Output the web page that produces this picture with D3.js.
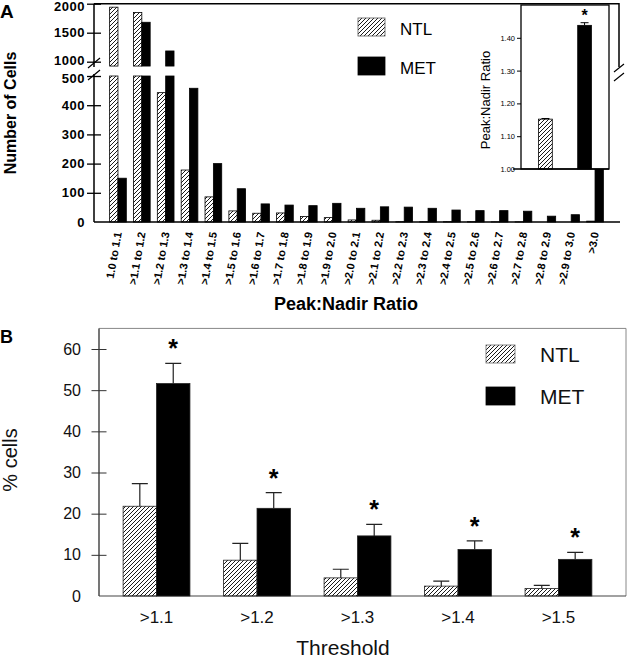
<!DOCTYPE html>
<html>
<head>
<meta charset="utf-8">
<script src="https://cdn.jsdelivr.net/npm/d3@7"></script>
<style>
  body { margin: 0; background: #fff; }
  svg { display: block; font-family: Arial, "Liberation Sans", sans-serif; }
</style>
</head>
<body>
<svg id="chart" width="627" height="661"></svg>
<script>
// Panel A: distribution of peak:nadir ratios
const rangeLabels = ['1.0 to 1.1', '>1.1 to 1.2', '>1.2 to 1.3', '>1.3 to 1.4', '>1.4 to 1.5',
  '>1.5 to 1.6', '>1.6 to 1.7', '>1.7 to 1.8', '>1.8 to 1.9', '>1.9 to 2.0', '>2.0 to 2.1',
  '>2.1 to 2.2', '>2.2 to 2.3', '>2.3 to 2.4', '>2.4 to 2.5', '>2.5 to 2.6', '>2.6 to 2.7',
  '>2.7 to 2.8', '>2.8 to 2.9', '>2.9 to 3.0', '>3.0'];
const ntlCounts = [1940, 1850, 443, 178, 86, 38, 30, 31, 19, 15, 7, 6, 1, 1, 1, 1, 0.5, 0.5, 0, 0, 3];
const metCounts = [150, 1680, 1185, 458, 200, 114, 62, 58, 56, 64, 47, 52, 51, 47, 41, 39, 39, 37, 20, 25, 400];
const lowTicks = [0, 100, 200, 300, 400, 500];
const highTicks = [1000, 1500, 2000];

// Inset: mean peak:nadir ratio
const insetGroups = ['NTL', 'MET'];
const insetMeans = [1.152, 1.438];
const insetErrors = [0.002, 0.008];
const insetTicks = [1.0, 1.1, 1.2, 1.3, 1.4];

// Panel B: % cells above threshold
const thresholds = ['>1.1', '>1.2', '>1.3', '>1.4', '>1.5'];
const ntlPct = [21.8, 8.7, 4.4, 2.4, 1.8];
const ntlPctErr = [5.5, 4.1, 2.1, 1.2, 0.8];
const metPct = [51.6, 21.3, 14.6, 11.3, 8.9];
const metPctErr = [4.9, 3.8, 2.8, 2.1, 1.7];
const pctTicks = [0, 10, 20, 30, 40, 50, 60];

const series = ['NTL', 'MET'];
const fillFor = s => (s === 'NTL' ? 'url(#hatch)' : '#000');
const FONT = 'Arial, "Liberation Sans", sans-serif';

const svg = d3.select('#chart');

// hatch "////"
svg.append('defs').append('pattern')
  .attr('id', 'hatch').attr('patternUnits', 'userSpaceOnUse')
  .attr('width', 4).attr('height', 4)
  .append('path')
  .attr('d', 'M-1,1 l2,-2 M0,4 l4,-4 M3,5 l2,-2')
  .attr('stroke', '#000').attr('stroke-width', 0.9);

// ---------------- Panel A ----------------
const A = { left: 94, right: 619, top: 3.7, bottom: 222 };
const xA = d3.scaleBand().domain(rangeLabels).range([A.left, A.right]).paddingInner(0.3).paddingOuter(0.655);
const subA = d3.scaleBand().domain(series).range([0, xA.bandwidth()]);
const yLow = d3.scaleLinear().domain([0, 500]).range([A.bottom, 76]);
const yHigh = d3.scaleLinear().domain([1000, 2000]).range([61.7, A.top]);
const highFloor = 925; // where the upper bar pieces start

const gA = svg.append('g');

series.forEach(s => {
  const vals = s === 'NTL' ? ntlCounts : metCounts;
  const g = gA.append('g');
  g.selectAll('rect.low').data(vals).join('rect')
    .attr('class', 'low')
    .attr('x', (d, i) => xA(rangeLabels[i]) + subA(s))
    .attr('y', d => yLow(Math.min(d, 500)))
    .attr('width', subA.bandwidth())
    .attr('height', d => yLow(0) - yLow(Math.min(d, 500)))
    .attr('fill', fillFor(s))
    .attr('stroke', '#000').attr('stroke-width', 0.8);
  g.selectAll('rect.high').data(vals.map((d, i) => ({ d, i })).filter(o => o.d > 500)).join('rect')
    .attr('class', 'high')
    .attr('x', o => xA(rangeLabels[o.i]) + subA(s))
    .attr('y', o => yHigh(o.d))
    .attr('width', subA.bandwidth())
    .attr('height', o => yHigh(highFloor) - yHigh(o.d))
    .attr('fill', fillFor(s))
    .attr('stroke', '#000').attr('stroke-width', 0.8);
});

// axes A
const axLow = gA.append('g').attr('transform', `translate(${A.left},0)`)
  .call(d3.axisLeft(yLow).tickValues(lowTicks).tickFormat(d3.format('d')).tickSizeOuter(0));
const axHigh = gA.append('g').attr('transform', `translate(${A.left},0)`)
  .call(d3.axisLeft(yHigh).tickValues(highTicks).tickFormat(d3.format('d')).tickSizeOuter(0));
[axLow, axHigh].forEach(ax => {
  ax.select('.domain').remove();
  ax.selectAll('.tick line').attr('x1', -7).attr('x2', 7).attr('stroke', '#000').attr('stroke-width', 1.3);
  ax.selectAll('.tick text').attr('x', -9).attr('fill', '#000')
    .style('font-size', '13px').style('font-weight', 'bold').style('letter-spacing', '0.5px')
    .style('font-family', FONT);
});
axLow.selectAll('.tick').filter(d => d === 0).select('line').remove();
axHigh.selectAll('.tick').filter(d => d === 2000).select('text').attr('dy', '0.55em');
axHigh.selectAll('.tick').filter(d => d === 1000).select('text').attr('dy', '0.2em');
axLow.selectAll('.tick').filter(d => d === 500).select('text').attr('dy', '0.5em');

gA.append('path')
  .attr('d', `M${A.left},${A.bottom}V74 M${A.left},67V${A.top} M${A.left},${A.top}H${A.right}V67 M${A.left},${A.bottom}H${A.right + 1}`)
  .attr('fill', 'none').attr('stroke', '#000').attr('stroke-width', 1.5);
gA.append('path')
  .attr('d', 'M88,68 L100,58 M88,80 L100,70 M614,72 L624,64 M614,81 L624,73')
  .attr('stroke', '#000').attr('stroke-width', 1.2);

// x labels A
gA.selectAll('text.xl').data(rangeLabels).join('text')
  .attr('class', 'xl')
  .attr('transform', d => `translate(${xA(d) + xA.bandwidth() / 2},232) rotate(-80)`)
  .attr('text-anchor', 'end').attr('dy', '0.35em')
  .style('font-size', '11px').style('font-weight', 'bold')
  .text(d => d);

gA.append('text').attr('x', 346).attr('y', 310).attr('text-anchor', 'middle')
  .style('font-size', '18px').style('font-weight', 'bold').text('Peak:Nadir Ratio');
gA.append('text').attr('transform', 'translate(16,113) rotate(-90)').attr('text-anchor', 'middle')
  .style('font-size', '16px').style('font-weight', 'bold').text('Number of Cells');
gA.append('text').attr('x', 0).attr('y', 18)
  .style('font-size', '19px').style('font-weight', 'bold').text('A');

// legend A
const legA = [{ s: 'NTL', y: 18 }, { s: 'MET', y: 57 }];
legA.forEach(l => {
  gA.append('rect').attr('x', 358).attr('y', l.y).attr('width', 27).attr('height', 18)
    .attr('fill', fillFor(l.s)).attr('stroke', l.s === 'NTL' ? '#555' : '#000').attr('stroke-width', 0.8);
  gA.append('text').attr('x', 400).attr('y', l.y + 16.5).style('font-size', '17px').text(l.s);
});

// ---------------- Inset ----------------
const I = { left: 521, right: 609, top: 5, bottom: 169 };
const xI = d3.scaleBand().domain(insetGroups).range([I.left, I.right]).paddingInner(0.65).paddingOuter(0.45);
const yI = d3.scaleLinear().domain([1.0, 1.5]).range([I.bottom, I.top]);
const gI = svg.append('g');
gI.append('rect').attr('x', I.left).attr('y', I.top).attr('width', I.right - I.left).attr('height', I.bottom - I.top)
  .attr('fill', '#fff').attr('stroke', '#000').attr('stroke-width', 1.3);
gI.append('line').attr('x1', 513).attr('x2', I.right).attr('y1', I.bottom).attr('y2', I.bottom)
  .attr('stroke', '#000').attr('stroke-width', 1.3);
gI.selectAll('rect.bar').data(insetMeans).join('rect')
  .attr('class', 'bar')
  .attr('x', (d, i) => xI(insetGroups[i]))
  .attr('y', d => yI(d))
  .attr('width', xI.bandwidth())
  .attr('height', d => yI(1.0) - yI(d))
  .attr('fill', (d, i) => fillFor(insetGroups[i]))
  .attr('stroke', '#000').attr('stroke-width', 0.8);
gI.selectAll('path.err').data(insetMeans).join('path')
  .attr('class', 'err')
  .attr('d', (d, i) => {
    const cx = xI(insetGroups[i]) + xI.bandwidth() / 2;
    const top = yI(d + insetErrors[i]);
    return `M${cx},${yI(d)}V${top}M${cx - 4},${top}H${cx + 4}`;
  })
  .attr('stroke', '#000').attr('stroke-width', 1);
const axI = gI.append('g').attr('transform', `translate(${I.left},0)`)
  .call(d3.axisLeft(yI).tickValues(insetTicks).tickFormat(d3.format('.2f')).tickSize(4).tickSizeOuter(0));
axI.select('.domain').remove();
axI.selectAll('.tick line').attr('stroke', '#000');
axI.selectAll('.tick text').attr('x', -6).attr('fill', '#000')
  .style('font-size', '7.5px').style('font-family', FONT);
axI.selectAll('.tick').filter(d => d === 1.0).select('line').remove();
gI.append('text').attr('transform', 'translate(490,100) rotate(-90)').attr('text-anchor', 'middle')
  .style('font-size', '13px').text('Peak:Nadir Ratio');
gI.append('text').attr('x', xI('MET') + xI.bandwidth() / 2).attr('y', 20.5).attr('text-anchor', 'middle')
  .style('font-size', '16px').style('font-weight', 'bold').text('*');

// ---------------- Panel B ----------------
const B = { left: 99, right: 626, bottom: 596 };
const xB = d3.scaleBand().domain(thresholds).range([B.left, 616]).paddingInner(0.335).paddingOuter(0.24);
const subB = d3.scaleBand().domain(series).range([0, xB.bandwidth()]);
const yB = d3.scaleLinear().domain([0, 60]).range([B.bottom, 349]);
const gB = svg.append('g');

gB.append('path')
  .attr('d', `M${B.left},${B.bottom}V${yB(65)}H${B.right}V${B.bottom}`)
  .attr('fill', 'none').attr('stroke', '#888').attr('stroke-width', 1);
gB.append('line').attr('x1', B.left).attr('x2', B.right).attr('y1', B.bottom).attr('y2', B.bottom)
  .attr('stroke', '#444').attr('stroke-width', 1.2);
gB.append('line').attr('x1', B.left).attr('x2', B.left).attr('y1', B.bottom).attr('y2', yB(65))
  .attr('stroke', '#444').attr('stroke-width', 1.2);

series.forEach(s => {
  const vals = s === 'NTL' ? ntlPct : metPct;
  const errs = s === 'NTL' ? ntlPctErr : metPctErr;
  const g = gB.append('g');
  g.selectAll('rect').data(vals).join('rect')
    .attr('x', (d, i) => xB(thresholds[i]) + subB(s))
    .attr('y', d => yB(d))
    .attr('width', subB.bandwidth())
    .attr('height', d => yB(0) - yB(d))
    .attr('fill', fillFor(s))
    .attr('stroke', '#222').attr('stroke-width', 0.8);
  g.selectAll('path').data(vals).join('path')
    .attr('d', (d, i) => {
      const cx = xB(thresholds[i]) + subB(s) + subB.bandwidth() / 2;
      const top = yB(d + errs[i]);
      return `M${cx},${yB(d)}V${top}M${cx - 8},${top}H${cx + 8}`;
    })
    .attr('stroke', '#222').attr('stroke-width', 1.2).attr('fill', 'none');
  if (s === 'MET') {
    g.selectAll('text').data(vals).join('text')
      .attr('x', (d, i) => xB(thresholds[i]) + subB(s) + subB.bandwidth() / 2)
      .attr('y', (d, i) => yB(d + errs[i]) - 6)
      .attr('text-anchor', 'middle')
      .style('font-size', '25px').style('font-weight', 'bold')
      .text('*');
  }
});

const axB = gB.append('g').attr('transform', `translate(${B.left},0)`)
  .call(d3.axisLeft(yB).tickValues(pctTicks).tickSizeOuter(0));
axB.select('.domain').remove();
axB.selectAll('.tick line').attr('x1', -7.5).attr('x2', 7.5).attr('stroke', '#333').attr('stroke-width', 1);
axB.selectAll('.tick text').attr('x', -18).attr('fill', '#111')
  .style('font-size', '16px').style('font-family', FONT);
axB.selectAll('.tick').filter(d => d === 0).select('line').remove();

gB.selectAll('text.xb').data(thresholds).join('text')
  .attr('class', 'xb')
  .attr('x', d => xB(d) + xB.bandwidth() / 2)
  .attr('y', 623)
  .attr('text-anchor', 'middle')
  .style('font-size', '17px').attr('fill', '#111')
  .text(d => d);

gB.append('text').attr('x', 343).attr('y', 655).attr('text-anchor', 'middle')
  .style('font-size', '21px').attr('fill', '#111').text('Threshold');
gB.append('text').attr('transform', 'translate(17,460) rotate(-90)').attr('text-anchor', 'middle')
  .style('font-size', '20px').attr('fill', '#111').text('% cells');
gB.append('text').attr('x', 0).attr('y', 343)
  .style('font-size', '18px').style('font-weight', 'bold').text('B');

const legB = [{ s: 'NTL', y: 345 }, { s: 'MET', y: 387 }];
legB.forEach(l => {
  gB.append('rect').attr('x', 486).attr('y', l.y).attr('width', 29).attr('height', 18)
    .attr('fill', fillFor(l.s)).attr('stroke', l.s === 'NTL' ? '#666' : '#000').attr('stroke-width', 0.8);
  gB.append('text').attr('x', 540).attr('y', l.y + 17).style('font-size', '21px').attr('fill', '#111').text(l.s);
});
</script>
</body>
</html>
